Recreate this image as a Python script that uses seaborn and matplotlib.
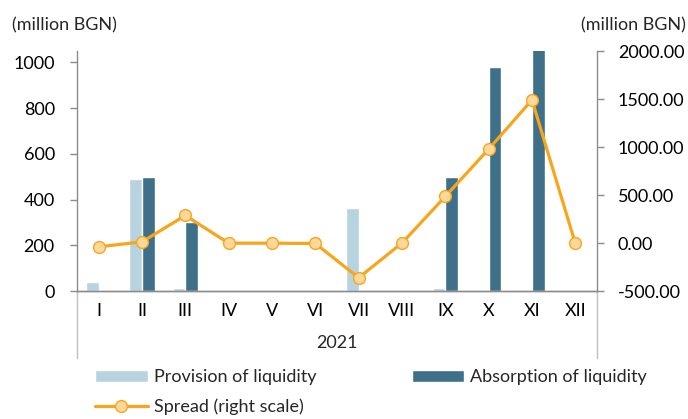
import numpy as np
import pandas as pd
import matplotlib
matplotlib.use("Agg")
import matplotlib.pyplot as plt
import seaborn as sns
from matplotlib.patches import Patch
from matplotlib.lines import Line2D

months = ['I', 'II', 'III', 'IV', 'V', 'VI', 'VII', 'VIII', 'IX', 'X', 'XI', 'XII']
provision = [40, 488, 13, 0, 0, 5, 362, 0, 13, 0, 0, 5]
absorption = [0, 500, 300, 0, 0, 0, 0, 0, 498, 978, 1490, 0]
spread = [-40, 12, 287, -2, -2, -5, -362, 0, 485, 978, 1490, -5]
year = '2021'

c_prov = '#b7d3df'
c_abs = '#3e7089'
c_line = '#f7a61c'
c_face = '#fdd89a'
grey = '#8c8c8c'
fs = 13

sns.set_theme(style="white")
plt.rcParams['font.family'] = ['Lato', 'DejaVu Sans']
plt.rcParams['font.size'] = fs

df = pd.DataFrame({
    'month': months * 2,
    'value': provision + absorption,
    'series': ['Provision of liquidity'] * 12 + ['Absorption of liquidity'] * 12,
})

fig = plt.figure(figsize=(6.88, 4.19), dpi=100)
ax = fig.add_axes([77 / 688, 1 - 291 / 419, 520 / 688, 240 / 419])
sns.barplot(data=df, x='month', y='value', hue='series', palette=[c_prov, c_abs],
            width=0.58, saturation=1, legend=False, ax=ax)
ax.set_ylim(0, 1050)
ax.set_xlim(-0.5, 11.5)
ax.set_yticks(range(0, 1001, 200))
ax.set_xlabel('')
ax.set_ylabel('')

ax2 = ax.twinx()
sns.lineplot(x=np.arange(12), y=spread, ax=ax2, color=c_line, linewidth=2.3,
             marker='o', markersize=8.5, markerfacecolor=c_face,
             markeredgecolor=c_line, markeredgewidth=1)
ax2.set_ylim(-500, 2000)
ax2.set_yticks(range(-500, 2001, 500))
ax2.set_yticklabels([f'{v:.2f}' for v in range(-500, 2001, 500)])
ax2.set_ylabel('')

for a in (ax, ax2):
    for s in a.spines.values():
        s.set_color(grey)
        s.set_linewidth(1)
    a.spines['top'].set_visible(False)
    a.tick_params(axis='y', colors=grey, labelcolor='black', length=5, width=1,
                  direction='out', labelsize=fs)
ax.spines['right'].set_visible(False)
ax2.spines['left'].set_visible(False)
ax.tick_params(axis='y', pad=11, left=True)
ax2.tick_params(axis='y', pad=10, right=True)

# month labels with separators
ax.tick_params(axis='x', which='major', length=0, pad=9, labelsize=fs, labelcolor='black')
ax.set_xticks(np.arange(-0.5, 12, 1), minor=True)
ax.tick_params(axis='x', which='minor', length=24, width=1, color='#bfbfbf', direction='out')
for xb in (-0.5, 11.5):
    ax.plot([xb, xb], [0, -0.279], transform=ax.get_xaxis_transform(),
            color='#bfbfbf', lw=1, clip_on=False)
ax.text(5.5, -0.217, year, transform=ax.get_xaxis_transform(),
        ha='center', va='center', fontsize=fs)

fig.text(12 / 688, 1 - 25 / 419, '(million BGN)', ha='left', va='center', fontsize=fs)
fig.text(686 / 688, 1 - 25 / 419, '(million BGN)', ha='right', va='center', fontsize=fs)

handles = [
    Patch(facecolor=c_prov, label='Provision of liquidity'),
    Line2D([], [], color=c_line, lw=2.3, marker='o', markersize=8.5,
           markerfacecolor=c_face, markeredgecolor=c_line, label='Spread (right scale)'),
    Patch(facecolor=c_abs, label='Absorption of liquidity'),
]
fig.legend(handles=handles, ncol=2, loc='upper left', bbox_to_anchor=(88 / 688, 1 - 362 / 419),
           frameon=False, handlelength=2.9, handleheight=0.7, columnspacing=5.3,
           handletextpad=0.33, labelspacing=0.75, fontsize=fs, borderaxespad=0)

fig.savefig('out.png', dpi=100)
